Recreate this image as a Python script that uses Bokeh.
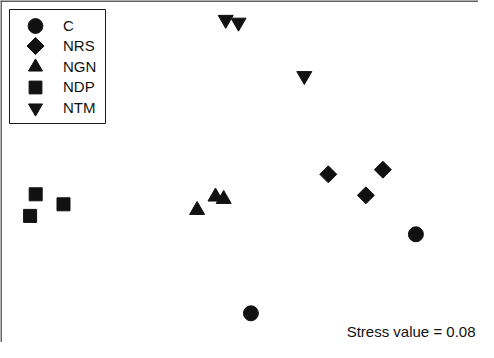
from bokeh.plotting import figure
from bokeh.models import Range1d, Span, Label, Legend, LegendItem, ColumnDataSource, BoxAnnotation
from bokeh.embed import file_html
from bokeh.resources import INLINE
import math

groups = ["C", "NRS", "NGN", "NDP", "NTM"]
nmds1 = {
    "C":   [0.867, 0.042],
    "NRS": [0.429, 0.702, 0.617],
    "NGN": [-0.227, -0.135, -0.094],
    "NDP": [-1.034, -1.062, -0.895],
    "NTM": [-0.084, -0.020, 0.309],
}
nmds2 = {
    "C":   [-0.309, -0.704],
    "NRS": [-0.009, 0.014, -0.114],
    "NGN": [-0.188, -0.121, -0.133],
    "NDP": [-0.109, -0.217, -0.159],
    "NTM": [0.764, 0.750, 0.483],
}
stress = 0.08

# marker styles; key = legend key box height (Bokeh draws legend marker at 0.4*box)
styles = {
    "C":   dict(marker="circle", size=15, angle=0, key=37),
    "NRS": dict(marker="square", size=12, angle=math.pi / 4, key=30),
    "NGN": dict(marker="triangle", size=15, angle=0, key=35),
    "NDP": dict(marker="square", size=13, angle=0, key=32),
    "NTM": dict(marker="inverted_triangle", size=15, angle=0, key=35),
}

W, H = 478, 342
PX = 200.0  # pixels per NMDS unit
x0, y1 = -1.21, 0.86
p = figure(width=W, height=H, output_backend="svg", toolbar_location=None,
           x_range=Range1d(x0, x0 + W / PX), y_range=Range1d(y1 - H / PX, y1),
           min_border=0, min_border_left=0, min_border_right=0,
           min_border_top=0, min_border_bottom=0)
p.extra_x_ranges = {"px": Range1d(0, W)}
p.extra_y_ranges = {"px": Range1d(H, 0)}
p.axis.visible = False
p.grid.visible = False
p.outline_line_color = None
p.background_fill_color = "white"
p.border_fill_color = "white"

# plot box: only top and left edges fall inside the window
p.add_layout(Span(location=y1 - 0.5 / PX, dimension="width", line_color="#2a2a2a", line_width=1.5))
p.add_layout(Span(location=x0 + 0.5 / PX, dimension="height", line_color="#3a3a3a", line_width=1.5))

# legend frame
p.add_layout(BoxAnnotation(left=9, right=105, top=H - 9, bottom=H - 123,
                           left_units="screen", right_units="screen",
                           top_units="screen", bottom_units="screen",
                           fill_color="white", fill_alpha=1,
                           line_color="#1a1a1a", line_width=1, line_alpha=1))

key_x = 35.0
first_center = 25.0   # from top of frame
pitch = 20.5
for i, g in enumerate(groups):
    st = styles[g]
    src = ColumnDataSource(dict(x=nmds1[g], y=nmds2[g]))
    r = p.scatter("x", "y", source=src, marker=st["marker"], size=st["size"],
                  angle=st["angle"], fill_color="#111111", line_color="#111111")
    k = st["key"]
    cy_top = first_center + i * pitch
    if st["angle"] != 0:
        # Bokeh legends never rotate markers: draw this key in pixel space
        p.scatter(x=[key_x], y=[cy_top], x_range_name="px", y_range_name="px",
                  marker=st["marker"], size=st["size"], angle=st["angle"],
                  fill_color="#111111", line_color="#111111", level="overlay")
        r = p.scatter(x=[], y=[], marker="square", fill_alpha=0, line_alpha=0)
    leg = Legend(items=[LegendItem(label=g, renderers=[r])],
                 location=(9, H - cy_top - k / 2), margin=0, padding=0,
                 glyph_width=52, glyph_height=k, label_height=k, spacing=0,
                 label_standoff=2, label_width=40,
                 label_text_font="Liberation Sans", label_text_font_size="15px",
                 label_text_color="#111111",
                 border_line_color=None, background_fill_alpha=0)
    p.add_layout(leg, "center")

p.add_layout(Label(x=W - 3, y=3, x_units="screen", y_units="screen",
                   text=f"Stress value = {stress:.2f}", text_align="right",
                   text_baseline="bottom", text_font="Liberation Sans",
                   text_font_size="15px", text_color="#111111"))

open("out.html", "w").write(file_html(p, INLINE))
